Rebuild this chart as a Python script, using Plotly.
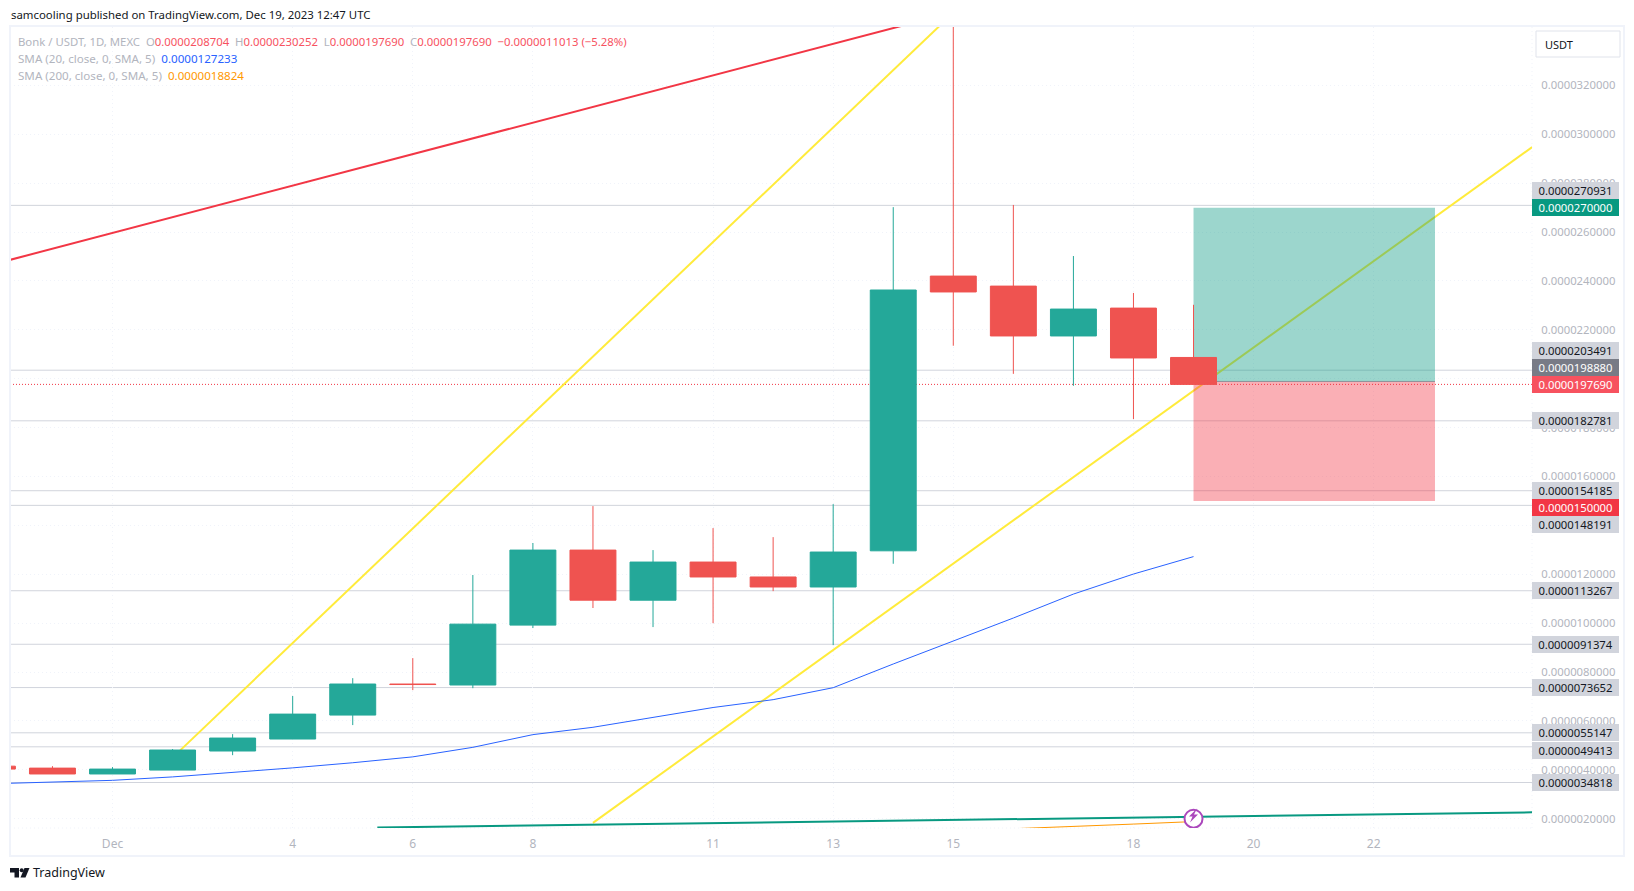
import plotly.graph_objects as go

# Prices are kept in millionths of a USDT and scaled when plotted.
SCALE = 1e-6

dates = ["2023-11-29", "2023-11-30", "2023-12-01", "2023-12-02", "2023-12-03", "2023-12-04", "2023-12-05",
         "2023-12-06", "2023-12-07", "2023-12-08", "2023-12-09", "2023-12-10", "2023-12-11", "2023-12-12",
         "2023-12-13", "2023-12-14", "2023-12-15", "2023-12-16", "2023-12-17", "2023-12-18", "2023-12-19"]
opens = [4.15, 4.07, 3.83, 3.99, 4.77, 5.26, 6.24, 7.51, 7.47, 9.92, 12.99, 10.94, 12.50, 11.89,
         11.48, 12.96, 24.20, 23.79, 21.75, 22.89, 20.8704]
highs = [4.15, 4.15, 4.11, 4.85, 5.46, 7.02, 7.75, 8.57, 11.97, 13.28, 14.79, 12.99, 13.89, 13.52,
         14.87, 27.02, 36.00, 27.11, 25.02, 23.51, 23.0252]
lows = [4.03, 3.83, 3.83, 3.99, 4.60, 5.26, 5.83, 7.26, 7.34, 9.80, 10.62, 9.84, 10.00, 11.31,
        9.10, 12.43, 21.35, 20.20, 19.71, 18.35, 19.769]
closes = [4.03, 3.83, 4.03, 4.81, 5.30, 6.28, 7.51, 7.49, 9.96, 12.99, 10.94, 12.50, 11.89, 11.48,
          12.91, 23.63, 23.55, 21.75, 22.85, 20.85, 19.769]

sma20 = [3.43, 3.49, 3.57, 3.71, 3.88, 4.08, 4.29, 4.53, 4.92, 5.44, 5.74, 6.16, 6.55, 6.87,
         7.36, 8.33, 9.27, 10.21, 11.19, 12.01, 12.7233]
sma200_dates = ["2023-12-16", "2023-12-17", "2023-12-18", "2023-12-19"]
sma200 = [1.59, 1.70, 1.78, 1.8824]

# Trend lines drawn on the chart: (start date, start price, end date, end price)
channel_upper = ("2023-11-28", 24.03, "2023-12-15", 34.99)
channel_rise = ("2023-12-02", 4.50, "2023-12-15", 34.97)
channel_lower = ("2023-12-09", 1.83, "2023-12-24 15:21", 29.48)
base_line_dates = ["2023-12-05 09:50", "2023-12-24 15:21"]
base_line_prices = [1.64, 2.26]

# Long position tool
position_start = "2023-12-19"
position_end = "2023-12-23 00:30"
take_profit = 27.0
entry = 19.888
stop_loss = 15.0
last_price = 19.769

level_prices = [27.0931, 20.3491, 18.2781, 15.4185, 14.8191, 11.3267, 9.1374, 7.3652, 5.5147, 4.9413, 3.4818]

price_ticks = list(range(2, 33, 2))
time_tick_dates = ["2023-12-01", "2023-12-04", "2023-12-06", "2023-12-08", "2023-12-11", "2023-12-13",
                   "2023-12-15", "2023-12-18", "2023-12-20", "2023-12-22"]
time_tick_labels = ["Dec", "4", "6", "8", "11", "13", "15", "18", "20", "22"]

axis_labels = [
    (27.0931, "0.0000270931"), (27.0, "0.0000270000"), (20.3491, "0.0000203491"), (19.888, "0.0000198880"),
    (19.769, "0.0000197690"), (18.2781, "0.0000182781"), (15.4185, "0.0000154185"), (15.0, "0.0000150000"),
    (14.8191, "0.0000148191"), (11.3267, "0.0000113267"), (9.1374, "0.0000091374"), (7.3652, "0.0000073652"),
    (5.5147, "0.0000055147"), (4.9413, "0.0000049413"), (3.4818, "0.0000034818"),
]
# Collision offsets for the price tags, in pixels
tag_shift = [14.6, 0, 19.4, 13.7, 0, 0, 0, -6.4, -19, 0, 0, 0, 0, -3.6, 0]
tag_fill = ["#d1d4dc", "#089981", "#d1d4dc", "#787b86", "#f7525f", "#d1d4dc", "#d1d4dc", "#f23645",
            "#d1d4dc", "#d1d4dc", "#d1d4dc", "#d1d4dc", "#d1d4dc", "#d1d4dc", "#d1d4dc"]
tag_ink = ["#131722", "#ffffff", "#131722", "#ffffff", "#ffffff", "#131722", "#131722", "#ffffff",
           "#131722", "#131722", "#131722", "#131722", "#131722", "#131722", "#131722"]

WIDTH, HEIGHT = 1634, 891
LEFT, RIGHT, TOP, BOTTOM = 10, 1532, 27, 828
FONT = "Noto Sans"
GREY = "#b2b5be"
UP = "#24a899"
DOWN = "#ef5350"
GRID_DASH = "1px,3px"


def px(x):
    return (x - LEFT) / (RIGHT - LEFT)


def py(y):
    return 1 - (y - TOP) / (BOTTOM - TOP)


def scaled(values):
    return [v * SCALE for v in values]


def trend_shape(line, color):
    x0, y0, x1, y1 = line
    return dict(type="line", xref="x", yref="y", x0=x0, y0=y0 * SCALE, x1=x1, y1=y1 * SCALE,
                layer="between", line=dict(color=color, width=2))


def screen_path(points):
    return "M" + " L".join(f"{px(x):.5f},{py(y):.5f}" for x, y in points) + " Z"


fig = go.Figure()

fig.add_trace(go.Candlestick(
    x=dates, open=scaled(opens), high=scaled(highs), low=scaled(lows), close=scaled(closes),
    increasing=dict(line=dict(color=UP, width=1), fillcolor=UP),
    decreasing=dict(line=dict(color=DOWN, width=1), fillcolor=DOWN),
    hoverinfo="skip", showlegend=False,
))
fig.add_trace(go.Scatter(x=dates, y=scaled(sma20), mode="lines", hoverinfo="skip", showlegend=False,
                         line=dict(color="#2962ff", width=1)))
fig.add_trace(go.Scatter(x=sma200_dates, y=scaled(sma200), mode="lines", hoverinfo="skip", showlegend=False,
                         line=dict(color="#ff9800", width=1)))
fig.add_trace(go.Scatter(x=base_line_dates, y=scaled(base_line_prices), mode="lines", hoverinfo="skip",
                         showlegend=False, line=dict(color="#089981", width=2)))
fig.add_trace(go.Scatter(x=[position_start], y=[2.0 * SCALE], mode="markers", hoverinfo="skip", showlegend=False,
                         marker=dict(symbol="circle", size=18, color="#ffffff", line=dict(color="#ab47bc", width=2))))

shapes = []
# Horizontal levels sit beneath the position boxes.
for level in level_prices:
    shapes.append(dict(type="line", xref="paper", yref="y", x0=0, x1=1, y0=level * SCALE, y1=level * SCALE,
                       layer="between", line=dict(color="#d1d4dc", width=1)))
shapes.append(trend_shape(channel_upper, "#f23645"))
shapes.append(trend_shape(channel_rise, "#ffeb3b"))
shapes.append(trend_shape(channel_lower, "#ffeb3b"))
shapes.append(dict(type="rect", xref="x", yref="y", x0=position_start, x1=position_end,
                   y0=entry * SCALE, y1=take_profit * SCALE, layer="between", line=dict(width=0),
                   fillcolor="rgba(8,153,129,0.4)"))
shapes.append(dict(type="rect", xref="x", yref="y", x0=position_start, x1=position_end,
                   y0=stop_loss * SCALE, y1=entry * SCALE, layer="between", line=dict(width=0),
                   fillcolor="rgba(242,54,69,0.4)"))
shapes.append(dict(type="line", xref="x", yref="y", x0=position_start, x1=position_end,
                   y0=entry * SCALE, y1=entry * SCALE, layer="between",
                   line=dict(color="rgba(120,123,134,0.7)", width=1)))
shapes.append(dict(type="line", xref="paper", yref="y", x0=0, x1=1, y0=last_price * SCALE, y1=last_price * SCALE,
                   layer="between", line=dict(color="#f23645", width=1, dash="1px,2px")))

# Chart frame, symbol button, alert bolt and brand mark
shapes.append(dict(type="rect", xref="paper", yref="paper", x0=px(10), x1=px(1624), y0=py(856), y1=py(26),
                   layer="above", line=dict(color="#f0f3fa", width=2)))
shapes.append(dict(type="line", xref="paper", yref="paper", x0=1, x1=1, y0=0, y1=1, layer="below",
                   line=dict(color="#f0f3fa", width=1, dash=GRID_DASH)))
shapes.append(dict(type="line", xref="paper", yref="paper", x0=0, x1=1, y0=0, y1=0, layer="below",
                   line=dict(color="#f0f3fa", width=1, dash=GRID_DASH)))
shapes.append(dict(type="rect", xref="paper", yref="paper", x0=px(1536), x1=px(1620), y0=py(57), y1=py(31),
                   layer="above", line=dict(color="#e0e3eb", width=1), fillcolor="#ffffff"))
shapes.append(dict(type="path", xref="paper", yref="paper", layer="above", line=dict(width=0), fillcolor="#ab47bc",
                   path=screen_path([(1197, 808.5), (1189, 816.5), (1192.5, 816.5), (1190, 822.5), (1198, 814.5),
                                     (1194, 814.5)])))
shapes.append(dict(type="path", xref="paper", yref="paper", layer="above", line=dict(width=0), fillcolor="#131722",
                   path=screen_path([(10, 868), (19, 868), (19, 877.6), (14.5, 877.6), (14.5, 872.5), (10, 872.5)])))
shapes.append(dict(type="circle", xref="paper", yref="paper", layer="above", line=dict(width=0), fillcolor="#131722",
                   x0=px(19.7), x1=px(23.7), y0=py(872.3), y1=py(868.3)))
shapes.append(dict(type="path", xref="paper", yref="paper", layer="above", line=dict(width=0), fillcolor="#131722",
                   path=screen_path([(24.5, 868), (29.5, 868), (25.5, 877.6), (20.5, 877.6)])))

annotations = []


def add_text(x, y, text, color="#131722", size=11.4, anchor="left"):
    annotations.append(dict(xref="paper", yref="paper", x=px(x), y=py(y), text=text, showarrow=False,
                            xanchor=anchor, yanchor="middle", align="left", borderpad=0,
                            font=dict(family=FONT, size=size, color=color)))


add_text(9.5, 14.5, "samcooling published on TradingView.com, Dec 19, 2023 12:47 UTC")
red = '<span style="color:#f7525f">%s</span>'
add_text(16.5, 41.5, "Bonk / USDT, 1D, MEXC  O" + red % "0.0000208704" + "  H" + red % "0.0000230252"
         + "  L" + red % "0.0000197690" + "  C" + red % "0.0000197690" + "  " + red % "−0.0000011013 (−5.28%)",
         color=GREY, size=11.35)
add_text(16.5, 58.5, 'SMA (20, close, 0, SMA, 5)  <span style="color:#2962ff">0.0000127233</span>',
         color=GREY, size=11.6)
add_text(16.5, 75, 'SMA (200, close, 0, SMA, 5)  <span style="color:#ff9800">0.0000018824</span>',
         color=GREY, size=11.6)
add_text(1544, 44, "USDT", size=11)
add_text(32, 873, "TradingView", size=12.5)

for (price, text), shift, fill, ink in zip(axis_labels, tag_shift, tag_fill, tag_ink):
    annotations.append(dict(xref="paper", yref="y", x=px(1532), y=price * SCALE, yshift=shift, text=text,
                            showarrow=False, xanchor="left", yanchor="middle", width=87, height=17,
                            align="center", valign="middle", bgcolor=fill, borderpad=0, borderwidth=0,
                            font=dict(family=FONT, size=11.3, color=ink)))

fig.update_layout(
    width=WIDTH, height=HEIGHT,
    margin=dict(l=LEFT, r=WIDTH - RIGHT, t=TOP, b=HEIGHT - BOTTOM, pad=0),
    paper_bgcolor="#ffffff", plot_bgcolor="#ffffff",
    boxgap=0.235, boxgroupgap=0,
    showlegend=False,
    shapes=shapes, annotations=annotations,
    font=dict(family=FONT, size=11, color=GREY),
    xaxis=dict(type="date", range=["2023-11-29 07:02", "2023-12-24 15:16"], rangeslider=dict(visible=False),
               tickmode="array", tickvals=time_tick_dates, ticktext=time_tick_labels,
               showgrid=True, gridcolor="#f0f3fa", griddash=GRID_DASH, gridwidth=1, zeroline=False, showline=False,
               ticks="outside", ticklen=5, tickcolor="rgba(0,0,0,0)", tickfont=dict(family=FONT, size=12, color=GREY)),
    yaxis=dict(side="right", range=[1.62 * SCALE, 34.39 * SCALE], tickmode="array",
               tickvals=scaled(price_ticks), tickformat=".10f",
               showgrid=True, gridcolor="#f0f3fa", griddash=GRID_DASH, gridwidth=1, zeroline=False, showline=False,
               ticks="outside", ticklen=6, tickcolor="rgba(0,0,0,0)", tickfont=dict(family=FONT, size=11.3, color=GREY)),
)

fig.write_html("out.html", config={"displayModeBar": False})
